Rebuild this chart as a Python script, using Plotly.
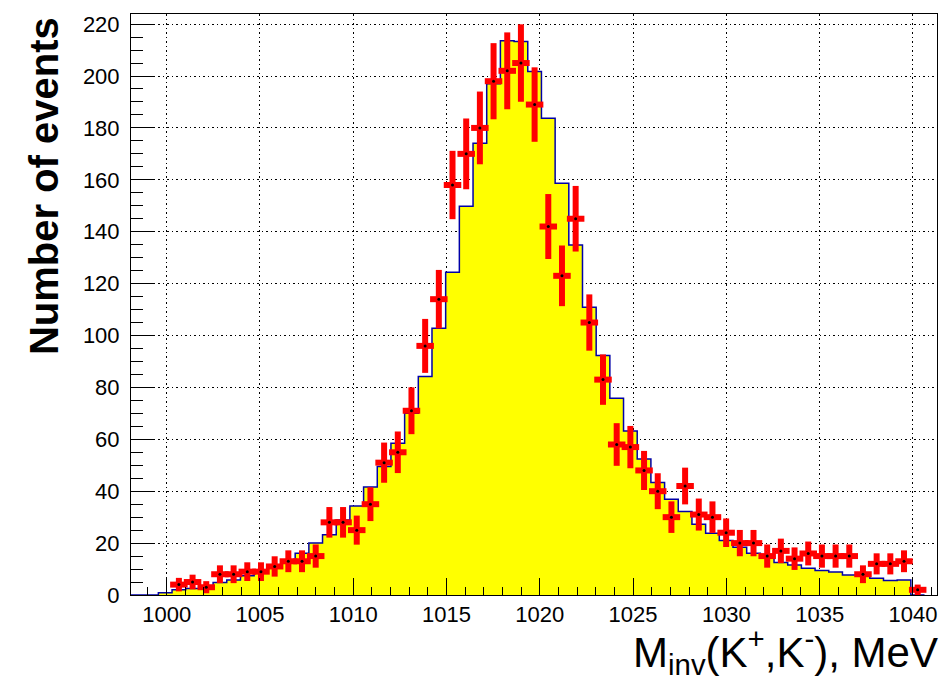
import numpy as np
import plotly.graph_objects as go

# Histogram binning (MeV)
BIN_LO = 998.09
BIN_W = 0.7333
N_BINS = 58
DATA_FIRST_BIN = 3

# Simulated distribution (yellow histogram), per bin
mc_counts = [0, 0, 0.9,
             2.0, 2.5, 3.3, 4.8, 5.8, 7.4, 8.9, 10.9, 13.2, 16.1,
             20.0, 23.2, 28.9, 34.3, 41.6, 49.5, 58.5, 70.0, 84.2, 102.8,
             124.4, 149.8, 174.1, 197.0, 213.6, 213.3, 201.7, 183.7, 158.7, 134.9,
             110.9, 92.3, 75.8, 63.2, 52.4, 43.4, 36.9, 32.2, 27.3, 23.8,
             21.0, 18.4, 16.1, 15.5, 12.5, 11.6, 10.3, 9.4, 8.9, 7.7,
             7.4, 6.5, 5.6, 5.8, 0]

# Measured events (red crosses), per bin starting at DATA_FIRST_BIN
data_counts = [4, 5, 3, 8, 8, 9, 9, 11, 13, 13,
               15, 28, 28, 25, 35, 51, 55, 71, 96, 114,
               158, 170, 180, 198, 202, 205, 189, 142, 123, 145,
               105, 83, 58, 57, 48, 40, 30, 42, 31, 30,
               24, 20, 20, 15, 17, 14, 16, 15, 15, 15,
               8, 12, 12, 13, 2]

x_ticks = [1000, 1005, 1010, 1015, 1020, 1025, 1030, 1035, 1040]
y_ticks = list(range(0, 221, 20))

X_RANGE = [998.09, 1041.29]
Y_RANGE = [0, 223.9]

edges = BIN_LO + BIN_W * np.arange(N_BINS + 1)
centers = 0.5 * (edges[:-1] + edges[1:])
data_x = centers[DATA_FIRST_BIN:DATA_FIRST_BIN + len(data_counts)]
data_y = np.array(data_counts, dtype=float)
data_err = np.sqrt(data_y) + 0.6

FONT = "Liberation Sans, Arial, Helvetica, sans-serif"

fig = go.Figure()
fig.add_trace(go.Scatter(
    x=edges, y=list(mc_counts) + [mc_counts[-1]],
    mode="lines", line=dict(shape="hv", color="#0000a8", width=1.5),
    fill="tozeroy", fillcolor="#ffff00", hoverinfo="skip"))
fig.add_trace(go.Scatter(
    x=data_x, y=data_y, mode="markers",
    marker=dict(color="black", size=3),
    error_x=dict(type="constant", value=BIN_W * 0.64, thickness=6, width=0, color="#ff0000"),
    error_y=dict(type="data", array=data_err, thickness=6, width=0, color="#ff0000")))

axis_common = dict(
    showline=True, linecolor="black", linewidth=1, mirror=True,
    ticks="inside", tickcolor="black", tickwidth=1,
    showgrid=True, gridcolor="black", gridwidth=1, griddash="1.5px,3px",
    zeroline=False,
    tickfont=dict(family=FONT, size=22, color="black"),
)
fig.update_xaxes(range=X_RANGE, tickvals=x_ticks, ticklen=17,
                 minor=dict(ticks="inside", ticklen=8, dtick=1, tick0=1000,
                            tickcolor="black", showgrid=False),
                 **axis_common)
fig.update_yaxes(range=Y_RANGE, tickvals=y_ticks, ticklen=24, ticklabelstandoff=6,
                 minor=dict(ticks="inside", ticklen=12, dtick=5, tick0=0,
                            tickcolor="black", showgrid=False),
                 **axis_common)

fig.update_layout(
    width=942, height=682,
    margin=dict(l=131, r=5, t=14, b=87),
    paper_bgcolor="white", plot_bgcolor="white",
    showlegend=False,
    annotations=[
        dict(text="<b>Number of events</b>", textangle=-90,
             xref="paper", yref="paper", x=-0.108, y=0.998,
             xanchor="center", yanchor="top", showarrow=False,
             font=dict(family=FONT, size=40, color="black")),
        dict(text="M<sub>inv</sub>(K<sup>+</sup>,K<sup>-</sup>), MeV",
             xref="paper", yref="paper", x=1.004, y=-0.043,
             xanchor="right", yanchor="top", showarrow=False,
             font=dict(family=FONT, size=42, color="black")),
    ],
)

fig.write_html("out.html")
